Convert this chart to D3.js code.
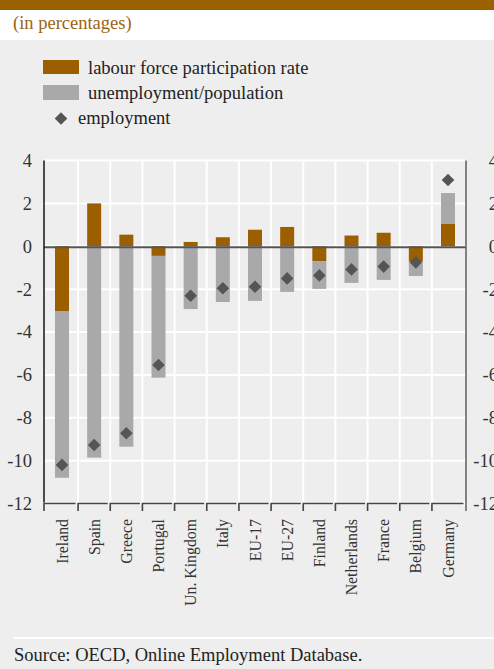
<!DOCTYPE html>
<html><head><meta charset="utf-8">
<script src="https://cdn.jsdelivr.net/npm/d3@7"></script>
<style>
body{margin:0;background:#fff}
svg{display:block}
text{font-family:"Liberation Serif","Times New Roman",serif}
</style>
</head><body><svg id="c" width="494" height="669"></svg>
<script>
const categories = ["Ireland","Spain","Greece","Portugal","Un. Kingdom","Italy","EU-17","EU-27","Finland","Netherlands","France","Belgium","Germany"];
const labourForce = [-3.02, 2.0, 0.54, -0.45, 0.2, 0.42, 0.77, 0.9, -0.69, 0.5, 0.63, -0.72, 1.04];
const unemploymentPop = [-7.78, -9.86, -9.35, -5.68, -2.93, -2.6, -2.55, -2.13, -1.3, -1.71, -1.57, -0.67, 1.44];
const employment = [-10.2, -9.27, -8.72, -5.54, -2.31, -1.96, -1.89, -1.5, -1.36, -1.08, -0.95, -0.75, 3.09];
const yTicks = [4, 2, 0, -2, -4, -6, -8, -10, -12];
const yTickLabels = ["4", "2", "0", "-2", "-4", "-6", "-8", "-10", "-12"];
const seriesNames = ["labour force participation rate", "unemployment/population", "employment"];

(function(){
const brown = "#9b5f00", grey = "#a9a9ac", dark = "#555555";
const svg = d3.select("#c");

// backgrounds
svg.append("rect").attr("x",0).attr("y",0).attr("width",494).attr("height",10).attr("fill","#9b6000");
svg.append("rect").attr("x",0).attr("y",40).attr("width",494).attr("height",629).attr("fill","#eeeeee");
svg.append("text").attr("x",13).attr("y",29).attr("font-size",18.5).attr("fill","#9b6410").text("(in percentages)");

// legend
const lg = svg.append("g");
lg.append("rect").attr("x",43).attr("y",60).attr("width",36).attr("height",14).attr("fill",brown);
lg.append("text").attr("x",88).attr("y",74).attr("font-size",18.5).attr("fill","#222").text(seriesNames[0]);
lg.append("rect").attr("x",43).attr("y",85).attr("width",36).attr("height",15).attr("fill",grey);
lg.append("text").attr("x",88).attr("y",99).attr("font-size",18.5).attr("fill","#222").text(seriesNames[1]);
const dia = (cx, cy, r) => `M${cx},${cy-r}L${cx+r},${cy}L${cx},${cy+r}L${cx-r},${cy}Z`;
lg.append("path").attr("d",dia(61,118.5,6.3)).attr("fill",dark);
lg.append("text").attr("x",78).attr("y",124).attr("font-size",18.5).attr("fill","#222").text(seriesNames[2]);

// scales
const pL = 44, pR = 466, pT = 160.5, pB = 503.5;
const x = d3.scaleBand().domain(categories).range([pL, pR]).paddingInner(0.565).paddingOuter(0.342);
const y = d3.scaleLinear().domain([-12, 4]).range([pB, pT]);
const step = x.step();
const cx = c => x(c) + x.bandwidth()/2;
const fmt = d => yTickLabels[yTicks.indexOf(d)];

// grid
const grid = svg.append("g");
grid.selectAll("line.h").data(yTicks).join("line").attr("class","h")
  .attr("x1",pL).attr("x2",pR).attr("y1",d=>y(d)).attr("y2",d=>y(d))
  .attr("stroke","#fff").attr("stroke-width",2);
grid.selectAll("line.v").data(categories.slice(0,-1)).join("line").attr("class","v")
  .attr("x1",d=>cx(d)+step/2).attr("x2",d=>cx(d)+step/2).attr("y1",pT).attr("y2",pB)
  .attr("stroke","#fff").attr("stroke-width",2);

// stacked bars
const rows = categories.map((c,i)=>({cat:c, lf:labourForce[i], un:unemploymentPop[i]}));
const stack = d3.stack().keys(["lf","un"]).offset(d3.stackOffsetDiverging)(rows);
const colors = {lf:brown, un:grey};
svg.append("g").selectAll("g").data(stack).join("g").attr("fill",s=>colors[s.key])
  .selectAll("rect").data(s=>s).join("rect")
  .attr("x",d=>x(d.data.cat)).attr("width",x.bandwidth())
  .attr("y",d=>y(Math.max(d[0],d[1]))).attr("height",d=>Math.abs(y(d[0])-y(d[1])));

// zero line
svg.append("line").attr("x1",pL).attr("x2",pR).attr("y1",y(0)+1).attr("y2",y(0)+1)
  .attr("stroke","#555").attr("stroke-width",2);

// employment diamonds
svg.append("g").selectAll("path").data(categories).join("path")
  .attr("d",(c,i)=>dia(cx(c), y(employment[i]), 6.3)).attr("fill",dark);

// axes
const yAxisL = d3.axisLeft(y).tickValues(yTicks).tickSize(0).tickPadding(12).tickFormat(fmt);
const gl = svg.append("g").attr("transform",`translate(${pL},0)`).call(yAxisL);
gl.select(".domain").remove();
gl.selectAll("text").attr("font-size",18.5).attr("fill","#333").attr("font-family","Liberation Serif");
svg.append("line").attr("x1",pL).attr("x2",pL).attr("y1",pT).attr("y2",pB-1).attr("stroke","#222").attr("stroke-width",1.6);

const yAxisR = d3.axisRight(y).tickValues(yTicks).tickSize(0).tickPadding(32).tickFormat(fmt);
const gr = svg.append("g").attr("transform",`translate(${pR},0)`).call(yAxisR);
gr.select(".domain").remove();
gr.selectAll("text").attr("font-size",18.5).attr("fill","#333").attr("font-family","Liberation Serif").attr("text-anchor","end");
svg.append("line").attr("x1",pR).attr("x2",pR).attr("y1",pT).attr("y2",pB+7.5).attr("stroke","#666").attr("stroke-width",1.6);

// bottom axis brackets
const bounds = categories.map((c,i)=> i===0 ? pL : cx(c)-step/2);
const gb = svg.append("g").attr("stroke","#444").attr("stroke-width",1.6).attr("fill","none");
gb.selectAll("path").data(categories).join("path")
  .attr("d",(c,i)=>{const b0=bounds[i]; const b1=(i<categories.length-1?bounds[i+1]:pR)-2.5;
     return `M${b0},${pB+7.5}L${b0},${pB}L${b1},${pB}`;});

// x labels
svg.append("g").selectAll("text").data(categories).join("text")
  .attr("transform",c=>`translate(${cx(c)},519) rotate(-90)`)
  .attr("text-anchor","end").attr("dy","0.35em").attr("font-size",15.8).attr("fill","#333").text(c=>c);

// footer
svg.append("line").attr("x1",14).attr("x2",494).attr("y1",638).attr("y2",638).attr("stroke","#fff").attr("stroke-width",2);
svg.append("text").attr("x",14).attr("y",661).attr("font-size",18.5).attr("fill","#222").text("Source: OECD, Online Employment Database.");
})();
</script>
</body></html>
